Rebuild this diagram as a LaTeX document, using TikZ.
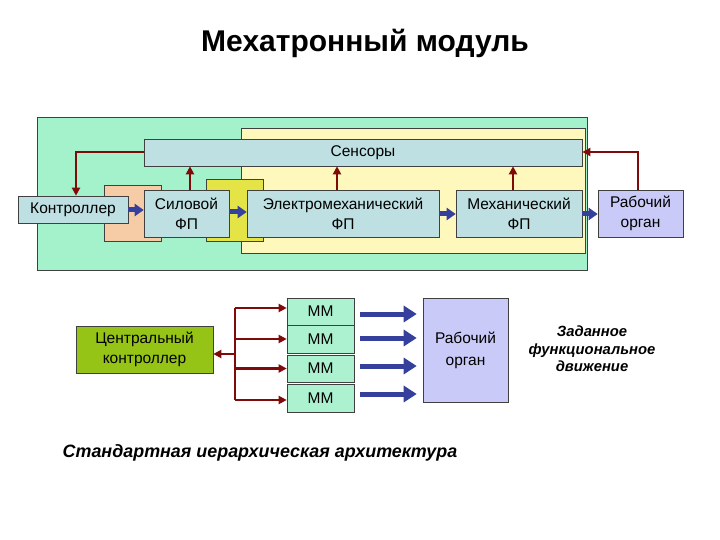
\documentclass[tikz,border=0pt]{standalone}
\usepackage{fontspec}
\setmainfont{Liberation Sans}
\usetikzlibrary{arrows.meta,calc}
\definecolor{bgmint}{HTML}{A4F2CC}
\definecolor{bgyellow}{HTML}{FFF8BC}
\definecolor{boxblue}{HTML}{BEE0E2}
\definecolor{salmon}{HTML}{F6CCA6}
\definecolor{oliveyel}{HTML}{E4E446}
\definecolor{lav}{HTML}{CACAF8}
\definecolor{mmgreen}{HTML}{ACF2D0}
\definecolor{cgreen}{HTML}{96C416}
\definecolor{maroon}{HTML}{7E0A0A}
\definecolor{navy}{HTML}{34409C}
\tikzset{
  base/.style={draw=black!75, line width=0.6pt, inner sep=0pt, align=center, font=\fontsize{15.5}{20}\selectfont},
  fbox/.style={base, fill=boxblue},
  redarr/.style={draw=maroon, line width=2.4pt, -{Triangle[length=8pt,width=8pt]}},
  bluearr/.style={draw=navy, line width=5pt, -{Triangle[length=9pt,width=12pt]}},
  bluebig/.style={draw=navy, line width=5pt, -{Triangle[length=13pt,width=16pt]}},
}
\begin{document}
\begin{tikzpicture}[x=1pt,y=-1pt]
\useasboundingbox (0,0) rectangle (720,540);
% title
\node[font=\fontsize{30}{34}\selectfont\bfseries] (title) at (365,43) {Мехатронный модуль};
% backgrounds
\node[base, fill=bgmint, minimum width=550, minimum height=153] (green) at (312,193.5) {};
\node[base, fill=bgyellow, minimum width=344, minimum height=125] (yellow) at (413,190.5) {};
\node[base, fill=salmon, minimum width=57, minimum height=56] (sal) at (132.5,213) {};
\node[base, fill=oliveyel, minimum width=57, minimum height=62] (oly) at (234.5,210) {};
% boxes
\node[fbox, minimum width=438, minimum height=27] (sens) at (363,152.5) {Сенсоры};
\node[fbox, minimum width=110, minimum height=27] (ctrl) at (73,209.5) {Контроллер};
\node[fbox, minimum width=85, minimum height=47] (sil) at (186.5,213.5) {Силовой\\ФП};
\node[fbox, minimum width=192, minimum height=47] (elm) at (343,213.5) {Электромеханический\\ФП};
\node[fbox, minimum width=126, minimum height=47] (mech) at (519,213.5) {Механический\\ФП};
\node[base, fill=lav, minimum width=85, minimum height=47] (rab) at (640.5,213.5) {Рабочий\\орган};
% blue arrows top
\draw[bluearr] (ctrl.east |- 0,210) -- (sil.west |- 0,210);
\draw[bluearr] (sil.east |- 0,212) -- (elm.west |- 0,212);
\draw[bluearr] (elm.east |- 0,214) -- (mech.west |- 0,214);
\draw[bluearr] (mech.east |- 0,214) -- (rab.west |- 0,214);
% red arrows top
\draw[redarr] (sil.north -| 190,0) -- (sens.south -| 190,0);
\draw[redarr] (elm.north -| 337,0) -- (sens.south -| 337,0);
\draw[redarr] (mech.north -| 513,0) -- (sens.south -| 513,0);
\draw[redarr] (sens.west |- 0,152) -| (ctrl.north -| 76,0);
\draw[redarr] (rab.north -| 638,0) |- (sens.east |- 0,152);
% lower part
\node[base, fill=cgreen, minimum width=137, minimum height=47] (cent) at (144.5,349.5) {Центральный\\контроллер};
\node[base, fill=mmgreen, minimum width=67, minimum height=27] (mm1) at (320.5,311.5) {ММ};
\node[base, fill=mmgreen, minimum width=67, minimum height=28] (mm2) at (320.5,339) {ММ};
\node[base, fill=mmgreen, minimum width=67, minimum height=27] (mm3) at (320.5,368.5) {ММ};
\node[base, fill=mmgreen, minimum width=67, minimum height=28] (mm4) at (320.5,398) {ММ};
\node[base, fill=lav, minimum width=85, minimum height=104, font=\fontsize{15.5}{22}\selectfont] (rab2) at (465.5,350) {Рабочий\\орган};
\coordinate (bus) at (235,0);
\draw[draw=maroon, line width=2.4pt] (bus |- 0,308) -- (bus |- 0,400);
\draw[redarr] (bus |- 0,308) -- (mm1.west |- 0,308);
\draw[redarr] (bus |- mm2.west) -- (mm2.west);
\draw[redarr] (bus |- mm3.west) -- (mm3.west);
\draw[redarr] (bus |- 0,400) -- (mm4.west |- 0,400);
\draw[redarr] (bus |- 0,354) -- (cent.east |- 0,354);
\foreach \m/\yy in {mm1/314, mm2/338, mm3/366, mm4/394}{
  \draw[bluebig] ($(\m.east |- 0,\yy)+(6,0)$) -- ($(rab2.west |- 0,\yy)+(-6,0)$);
}
\node[font=\fontsize{14.8}{17.5}\selectfont\bfseries\itshape, align=center] (goal) at (592,349) {Заданное\\функциональное\\движение};
\node[font=\fontsize{17.9}{21}\selectfont\bfseries\itshape] (cap) at (260,453) {Стандартная иерархическая архитектура};
\end{tikzpicture}
\end{document}
